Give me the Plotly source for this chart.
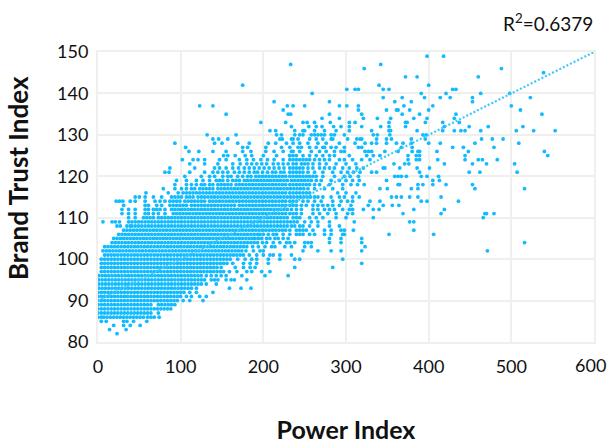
import plotly.graph_objects as go

x82 = [23]
x83 = [14, 34]
x84 = [19, 31, 39, 51]
x85 = [4, 10, 31, 35, 43, 59]
x86 = [0,4,7,11,15,19,23,27,31,35,39,43,47,51,55,60,64,68,74]
x87 = [0,4,8,12,16,20,24,28,32,36,40,44,48,52,56,60,64,73]
x88 = [0,4,8,12,16,20,24,28,32,36,40,44,48,52,56,60,64,68,72,76,80,84,88]
x89 = [0,4,8,12,16,20,24,28,32,36,40,44,48,52,56,60,64,73,77,81,85,89,93]
x90 = [0,4,8,12,16,20,24,28,32,36,40,44,48,52,56,60,64,68,72,76,80,84,88,92,96,103,111,127]
x91 = [0,4,8,12,16,20,24,28,32,36,40,44,48,52,56,60,64,68,72,76,80,84,88,92,96,100,107,113,123,131]
x92 = [0,4,8,12,16,20,24,28,32,36,40,44,48,52,56,60,64,68,72,76,80,84,88,92,96,100,104,111,119,139]
x93 = [1,5,9,13,17,21,25,29,33,37,41,45,49,53,57,61,65,69,73,77,81,85,89,93,97,101,105,109,113,119,159,173,185]
x94 = [1,5,9,13,17,21,25,29,33,37,41,45,49,53,57,61,65,69,73,77,81,85,89,93,97,101,105,109,113,117,121,125,131,143]
x95 = [1,5,9,13,17,21,25,29,33,37,41,45,49,53,57,61,65,69,73,77,81,85,89,93,97,101,105,109,113,117,121,125,129,137,141,145,155,161,165,180]
x96 = [1,5,9,13,17,21,25,29,33,37,41,45,49,53,57,61,65,69,73,77,81,85,89,93,97,101,105,109,113,117,121,125,131,137,143,149,155,174,202,230]
x97 = [4,8,12,16,20,24,28,32,36,40,44,48,52,56,60,64,68,72,76,80,84,88,92,96,100,104,108,112,116,120,124,128,132,136,140,144,148,152,159,168,180,186,198,208]
x98 = [4,8,12,16,20,24,28,32,36,40,44,48,52,56,60,64,68,72,76,80,84,88,92,96,100,104,108,112,116,120,124,128,132,136,140,144,149,166,176,184,190,238,284]
x99 = [4,8,12,16,20,24,28,32,36,40,44,48,52,56,60,64,68,72,76,80,84,88,92,96,100,104,108,112,116,120,124,128,132,136,140,144,148,152,156,163,176,184,192,206,319]
x100 = [4,8,12,16,20,24,28,32,36,40,44,48,52,56,60,64,68,72,76,80,84,88,92,96,100,104,108,112,116,120,124,128,132,136,140,144,148,152,156,160,169,178,186,192,206,220,238,244,296]
x101 = [8,12,16,20,24,28,32,36,40,44,48,52,56,60,64,68,72,76,80,84,88,92,96,100,104,108,112,116,120,124,128,132,136,140,144,148,152,156,160,164,168,172,176,183,192,200,208,212,220,234]
x102 = [6,10,14,18,22,26,30,34,38,42,46,50,54,58,62,66,70,74,78,82,86,90,94,98,102,106,110,114,118,122,126,130,134,138,142,146,150,154,158,162,166,170,174,179,188,196,200,248,266,282,294,319,471]
x103 = [8,12,16,20,24,28,32,36,40,44,48,52,56,60,64,68,72,76,80,84,88,92,96,100,104,108,112,116,120,124,128,132,136,140,144,148,152,156,160,164,168,172,176,180,187,194,202,210,214,226,234,250,258,323]
x104 = [17,21,25,29,33,37,41,45,49,53,57,61,65,69,73,77,81,85,89,93,97,101,105,109,113,117,121,125,129,133,137,141,145,149,153,157,161,165,169,173,177,181,185,189,193,199,204,212,220,228,232,238,250,254,258,280,294,319,516]
x105 = [19,23,27,31,35,39,43,47,51,55,59,63,67,71,75,79,83,87,91,95,99,103,107,111,115,119,123,127,131,135,139,143,147,151,155,159,163,167,171,175,179,183,187,190,194,198,204,208,214,218,224,230,280,294,319]
x106 = [25,29,33,37,41,45,49,53,57,61,65,69,73,77,81,85,89,93,97,101,105,109,113,117,121,125,129,133,137,141,145,149,153,157,161,165,169,173,177,181,185,189,193,196,200,206,212,216,224,232,240,244,248,256,262,274,282,296,298,352,406]
x107 = [31,35,39,43,47,51,55,59,63,67,71,75,79,83,87,91,95,99,103,107,111,115,119,123,127,131,135,139,143,147,151,155,159,163,167,171,175,179,183,187,191,195,199,203,207,211,215,219,223,227,232,240,244,248,252,260,274,282,294,298,309,382]
x108 = [23,27,35,39,41,45,49,53,57,61,65,69,73,77,81,85,89,93,97,101,105,109,113,117,121,125,129,133,137,141,145,149,153,157,161,165,169,173,177,181,185,189,193,197,201,205,209,213,217,221,225,229,234,238,244,248,256,266,280,292]
x109 = [6,17,21,26,37,41,45,49,53,57,61,65,69,73,77,81,85,89,93,97,101,105,109,113,117,121,125,129,133,137,141,145,149,153,157,161,165,169,173,177,181,185,189,193,197,201,205,209,213,217,221,225,229,233,237,241,250,258,266,280,310,377,382]
x110 = [37,45,55,59,63,67,73,77,81,85,89,93,97,101,105,109,113,117,121,125,129,133,137,141,145,149,153,157,161,165,169,173,177,181,185,189,193,197,201,205,209,213,217,221,225,229,236,240,244,256,264,272,288,300,333,466]
x111 = [29,37,45,57,61,67,73,81,91,95,99,103,107,111,115,119,123,127,131,135,139,143,147,151,155,159,163,167,171,175,179,183,187,191,195,199,203,207,211,215,219,223,227,232,236,240,246,260,268,278,288,302,308,369,415,468,470,479]
x112 = [29,37,45,57,61,67,71,75,81,89,93,97,101,105,109,113,117,121,125,129,133,137,141,145,149,153,157,161,165,169,173,177,181,185,189,193,197,201,205,209,213,217,221,225,229,234,240,246,260,266,274,280,286,296,304,308,321,333,340,382,419]
x113 = [31,57,61,71,77,87,91,95,99,103,107,113,117,121,125,129,133,137,141,145,149,153,157,161,165,171,175,179,183,187,191,195,199,203,207,211,215,219,223,227,232,236,240,246,252,260,266,272,278,284,292,306,327,345,356,364]
x114 = [22,26,30,39,45,57,69,75,81,87,91,95,99,105,109,113,117,121,125,129,135,139,143,147,151,155,159,163,167,171,175,179,183,187,191,195,199,203,207,211,215,219,223,227,232,236,240,248,254,262,270,284,294,302,308,329,341,391,398,436]
x115 = [45,50,57,67,77,89,93,97,101,107,111,115,121,125,129,133,137,141,145,149,153,157,161,165,169,173,177,181,185,189,193,197,201,205,209,213,217,221,225,229,233,237,241,245,249,253,257,262,266,272,282,292,298,308,316,355,361,367,377,387,415]
x116 = [58,85,97,103,107,111,115,119,123,127,131,135,139,143,147,151,155,159,163,167,171,175,179,183,187,191,195,199,203,207,211,215,219,223,227,232,236,240,244,248,252,256,290,300,312]
x117 = [79,93,101,107,113,117,123,127,131,135,139,145,149,153,157,161,165,169,173,177,181,185,189,193,197,201,205,209,213,217,221,225,229,233,237,241,245,249,254,262,274,284,296,341,350,379,387,456,516]
x118 = [93,107,113,119,125,129,135,139,145,149,153,157,161,167,171,175,179,183,187,191,195,199,203,207,211,215,219,223,227,232,236,240,244,248,252,256,262,268,280,296,306,314,322,363,365,387,393,405,421,453]
x119 = [95,107,119,127,135,143,147,151,157,163,167,171,177,181,185,189,193,197,201,205,209,213,217,221,225,229,234,238,242,246,250,254,258,264,270,282,292,300,308,316,349,405,413]
x120 = [105,125,135,141,151,157,161,169,175,181,185,191,195,199,203,207,211,215,219,223,227,232,236,240,244,248,252,256,260,264,272,286,298,305,315,359,363,367,373,391,398,412]
x121 = [81,86,111,129,139,145,151,157,165,171,177,183,189,193,199,205,211,215,221,225,232,236,240,244,248,254,262,272,284,294,302,309,317,331,337,389,449,462,507]
x122 = [87,117,141,147,155,163,170,177,183,189,195,201,207,213,219,225,232,236,240,244,248,254,260,268,274,280,286,296,304,313,321,345,347,365,386,401]
x123 = [111,129,145,163,172,180,186,192,198,204,212,218,224,230,236,240,246,250,254,260,268,276,288,300,312,358,371,376,419,453,470,504]
x124 = [102,115,121,129,147,155,171,180,188,197,205,213,224,232,236,240,244,248,252,256,262,268,274,280,292,298,308,319,329,375,385,389,411,444,460,465,483]
x125 = [152,157,166,178,186,200,216,232,232,236,240,248,256,264,272,280,286,304,325,333,341,375,385,389,444,544]
x126 = [110,122,139,155,175,185,203,213,224,234,236,244,258,268,276,286,294,298,323,327,331,347,363,380,387,389,410,448,540]
x127 = [106,175,181,203,222,232,242,246,256,264,272,274,282,288,298,315,319,367,380,429,442,479]
x128 = [93,141,150,169,183,206,215,228,236,244,254,266,276,292,311,323,331,337,349,361,369,379,400,414,456,509]
x129 = [139,146,157,220,223,236,234,242,256,264,272,282,284,302,313,317,319,337,349,355,379,396,464,477,490]
x130 = [132,167,216,222,238,244,248,258,262,266,270,274,282,286,298,333,338,353,393,397]
x131 = [208,215,238,248,250,262,274,288,304,331,352,354,386,417,431,439,444,463,506,527,553]
x132 = [234,255,264,271,285,294,304,319,342,352,372,419,449,472,514]
x133 = [197,227,248,253,262,281,304,311,352,372,374,396,417,437]
x134 = [271,292,321,338,354,382,398,431]
x135 = [155,230,233,280,319,368,389,433,537]
x136 = [224,315,349,361,363,377,400,511]
x137 = [123,139,229,236,250,292,301,315,370,405,500]
x138 = [213,280,359,379,453]
x139 = [345,368,395,414,426,453,523]
x140 = [259,391,421,463,498]
x141 = [301,311,315,345,352,429,433]
x142 = [175,340,400]
x144 = [372,386,460]
x145 = [539]
x146 = [322,488]
x147 = [233,342]
x149 = [398,418]

row_y = [82,83,84,85,86,87,88,89,90,91,92,93,94,95,96,97,98,99,100,101,102,103,104,105,106,107,108,109,110,111,112,113,114,115,116,117,118,119,120,121,122,123,124,125,126,127,128,129,130,131,132,133,134,135,136,137,138,139,140,141,142,144,145,146,147,149]
row_x = [x82,x83,x84,x85,x86,x87,x88,x89,x90,x91,x92,x93,x94,x95,x96,x97,x98,x99,x100,x101,x102,x103,x104,x105,x106,x107,x108,x109,x110,x111,x112,x113,x114,x115,x116,x117,x118,x119,x120,x121,x122,x123,x124,x125,x126,x127,x128,x129,x130,x131,x132,x133,x134,x135,x136,x137,x138,x139,x140,x141,x142,x144,x145,x146,x147,x149]

power = []
trust = []
for y, xs in zip(row_y, row_x):
    power += xs
    trust += [y] * len(xs)

trend_x = [0, 600]
trend_y = [90, 150]
x_ticks = [0, 100, 200, 300, 400, 500]
last_x_tick = 600
y_ticks = [80, 90, 100, 110, 120, 130, 140, 150]

CYAN = "#12BBFF"
GRID = "#EFEFEC"
FONT = "Lato"
INK = "#111111"
CLEAR = "rgba(0,0,0,0)"

fig = go.Figure()
fig.add_trace(go.Scatter(x=power, y=trust, mode="markers",
                         marker=dict(color=CYAN, size=3.8, line=dict(width=0)),
                         cliponaxis=False, showlegend=False))
fig.add_trace(go.Scatter(x=trend_x, y=trend_y, mode="lines",
                         line=dict(color="#3CC8FF", width=2.2, dash="2px,2px"),
                         cliponaxis=False, showlegend=False))
axis = dict(showgrid=True, gridcolor=GRID, gridwidth=2, zeroline=False,
            showline=True, linecolor=GRID, linewidth=2, mirror=True,
            ticks="outside", tickcolor=CLEAR,
            tickfont=dict(family=FONT, size=18, color=INK), automargin=False)
fig.update_xaxes(range=[0, last_x_tick], tickvals=x_ticks, ticklen=7,
                 title=dict(text="<b>Power Index</b>", standoff=48,
                            font=dict(family=FONT, size=25, color=INK)), **axis)
fig.update_yaxes(range=[80, 150], tickvals=y_ticks, ticklen=4, **axis)
# The last x label sits left of its tick so it stays inside the frame, as in the reference.
fig.add_annotation(text=str(last_x_tick), xref="x", yref="paper", x=last_x_tick, y=0,
                   xanchor="center", yanchor="middle", xshift=-4, yshift=-23, showarrow=False,
                   font=dict(family=FONT, size=18, color=INK))
fig.add_annotation(text="<b>Brand Trust Index</b>", xref="paper", yref="paper", x=0, y=0.5,
                   xanchor="center", yanchor="middle", textangle=-90, xshift=-80, yshift=19,
                   showarrow=False, font=dict(family=FONT, size=26, color=INK))
fig.add_annotation(text="R<sup>2</sup>=0.6379", xref="paper", yref="paper", x=1, y=1,
                   xanchor="right", yanchor="bottom", yshift=15, xshift=1, showarrow=False,
                   font=dict(family=FONT, size=19, color=INK))
fig.update_layout(width=607, height=444, margin=dict(l=98, r=13, t=52, b=102, autoexpand=False),
                  paper_bgcolor="white", plot_bgcolor="white")
fig.write_html("out.html", config={"displayModeBar": False},
               post_script="document.body.style.margin='0';")
